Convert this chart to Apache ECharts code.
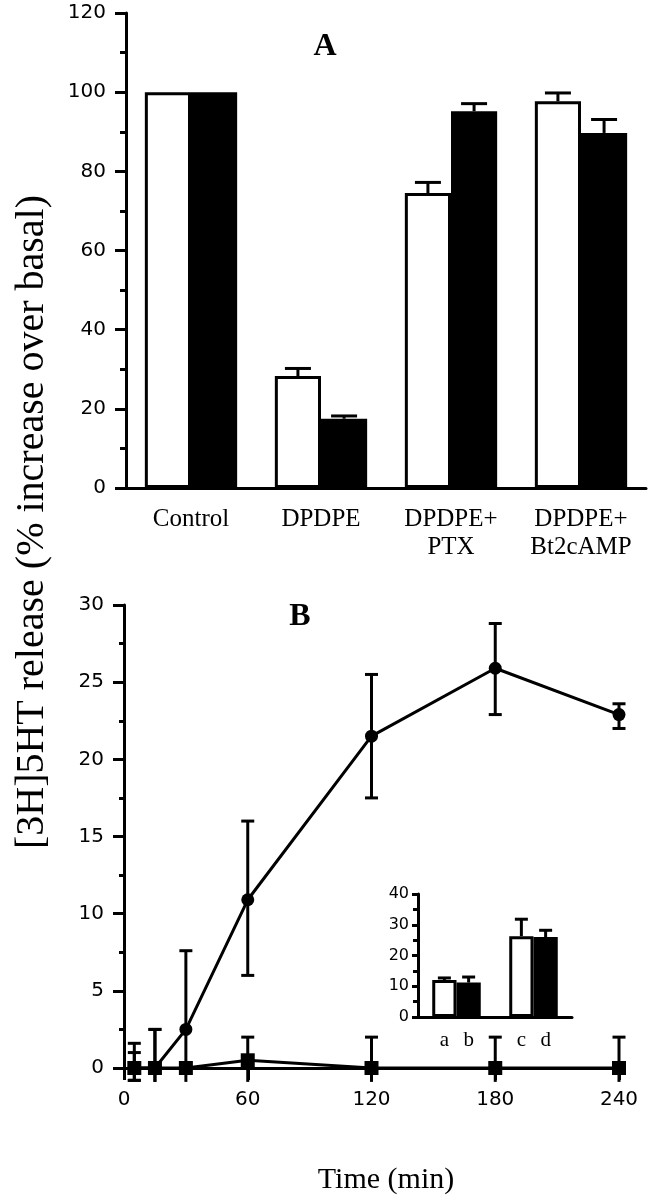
<!DOCTYPE html>
<html><head><meta charset="utf-8">
<script src="https://cdn.jsdelivr.net/npm/echarts@6/dist/echarts.min.js"></script>
<style>html,body{margin:0;padding:0;background:#fff}#c{width:653px;height:1199px}</style>
</head><body><div id="c"></div><script>
// ---------- Panel A ----------
const categoriesA = ['Control', 'DPDPE', 'DPDPE+\nPTX', 'DPDPE+\nBt2cAMP'];
const whiteA = [100, 28.3, 74.5, 97.7];
const whiteAHigh = [100, 30.2, 77.2, 99.8];
const blackA = [100, 17.5, 95.2, 89.7];
const blackAHigh = [100, 18.2, 97.1, 93.1];
// ---------- Panel B ----------
const timeB = [5, 15, 30, 60, 120, 180, 240];
const circleB = [0, 0, 2.5, 10.9, 21.5, 25.9, 22.9];
const circleHigh = [1.0, 2.5, 7.6, 16.0, 25.5, 28.8, 23.6];
const circleLow = [-0.8, -0.9, -0.9, 6.0, 17.5, 22.9, 22.0];
const squareB = [0, 0, 0, 0.5, 0, 0, 0];
const squareHigh = [1.6, 2.5, 0, 2.0, 2.0, 2.0, 2.0];
const squareLow = [-0.8, -0.9, 0, -0.9, -0.9, -0.9, -0.9];
// ---------- Inset ----------
const insetCats = ['ab', 'cd'];
const insetWhite = [12.0, 26.3];
const insetWhiteHigh = [12.7, 31.8];
const insetBlack = [11.2, 26.0];
const insetBlackHigh = [13.0, 28.2];
const insetWhiteLabels = ['a', 'c'];
const insetBlackLabels = ['b', 'd'];

const SERIF = '"Liberation Serif", "Times New Roman", serif';
const SANS = '"DejaVu Sans", sans-serif';
const AX = {lineStyle: {color: '#000', width: 3}};

function barErr(side, gap, capW, lw) {
  return function (params, api) {
    const cat = api.value(0), v = api.value(1), h = api.value(2);
    if (h <= v) return null;
    const band = api.size([1, 0])[0];
    const bw = band * (1 - gap) / 2;
    const c = api.coord([cat, v]);
    const x = c[0] + side * bw / 2;
    const top = api.coord([cat, h])[1];
    return {type: 'group', children: [
      {type: 'line', shape: {x1: x, y1: c[1], x2: x, y2: top}, style: {stroke: '#000', lineWidth: lw}},
      {type: 'line', shape: {x1: x - capW / 2, y1: top, x2: x + capW / 2, y2: top}, style: {stroke: '#000', lineWidth: lw}}
    ]};
  };
}
function lineErr(capW) {
  return function (params, api) {
    const t = api.value(0), lo = api.value(1), hi = api.value(2);
    if (hi <= lo) return null;
    const pHi = api.coord([t, hi]);
    const pLo = api.coord([t, lo]);
    const ch = [
      {type: 'line', shape: {x1: pHi[0], y1: pLo[1], x2: pHi[0], y2: pHi[1]}, style: {stroke: '#000', lineWidth: 3}},
      {type: 'line', shape: {x1: pHi[0] - capW / 2, y1: pHi[1], x2: pHi[0] + capW / 2, y2: pHi[1]}, style: {stroke: '#000', lineWidth: 3}}
    ];
    if (lo >= -0.8) ch.push({type: 'line', shape: {x1: pHi[0] - capW / 2, y1: pLo[1], x2: pHi[0] + capW / 2, y2: pLo[1]}, style: {stroke: '#000', lineWidth: 3}});
    return {type: 'group', children: ch};
  };
}

const chart = echarts.init(document.getElementById('c'), null, {renderer: 'canvas'});
const gapA = 0.29, gapI = 0.37;
chart.setOption({
  animation: false,
  backgroundColor: '#fff',
  grid: [
    {left: 126, top: 13, width: 520, height: 475},
    {left: 124, top: 605, width: 495, height: 463},
    {left: 418, top: 894, width: 154, height: 123}
  ],
  xAxis: [
    {gridIndex: 0, type: 'category', data: categoriesA, boundaryGap: true,
     axisLine: AX, axisTick: {alignWithLabel: true, length: 12, lineStyle: {width: 3, color: '#000'}},
     axisLabel: {interval: 0, fontFamily: SERIF, fontSize: 25, lineHeight: 28, color: '#000', margin: 17}},
    {gridIndex: 1, type: 'value', min: 0, max: 240, interval: 60,
     axisLine: AX, axisTick: {length: 12, lineStyle: {width: 3, color: '#000'}},
     splitLine: {show: false},
     axisLabel: {fontFamily: SANS, fontSize: 20, color: '#000', margin: 22}},
    {gridIndex: 2, type: 'category', data: insetCats, boundaryGap: true,
     axisLine: {lineStyle: {color: '#000', width: 3}}, axisTick: {alignWithLabel: true, length: 12, lineStyle: {width: 3, color: '#000'}},
     axisLabel: {show: false}}
  ],
  yAxis: [
    {gridIndex: 0, type: 'value', min: 0, max: 120, interval: 20,
     axisLine: {show: true, lineStyle: {color: '#000', width: 3}},
     axisTick: {show: true, length: 11, lineStyle: {width: 3, color: '#000'}},
     minorTick: {show: true, splitNumber: 2, length: 6, lineStyle: {width: 3, color: '#000'}},
     splitLine: {show: false},
     axisLabel: {fontFamily: SANS, fontSize: 20, color: '#000', margin: 20}},
    {gridIndex: 1, type: 'value', min: 0, max: 30, interval: 5,
     axisLine: {show: true, lineStyle: {color: '#000', width: 3}},
     axisTick: {show: true, length: 11, lineStyle: {width: 3, color: '#000'}},
     minorTick: {show: true, splitNumber: 2, length: 5, lineStyle: {width: 3, color: '#000'}},
     splitLine: {show: false},
     axisLabel: {fontFamily: SANS, fontSize: 20, color: '#000', margin: 20}},
    {gridIndex: 2, type: 'value', min: 0, max: 40, interval: 10,
     axisLine: {show: true, lineStyle: {color: '#000', width: 3}},
     axisTick: {show: true, length: 6, lineStyle: {width: 3, color: '#000'}},
     minorTick: {show: true, splitNumber: 2, length: 5, lineStyle: {width: 3, color: '#000'}},
     splitLine: {show: false},
     axisLabel: {fontFamily: SANS, fontSize: 16, color: '#000', margin: 9}}
  ],
  series: [
    {type: 'bar', xAxisIndex: 0, yAxisIndex: 0, data: whiteA, barGap: '0%', barCategoryGap: (gapA * 100) + '%',
     itemStyle: {color: '#fff', borderColor: '#000', borderWidth: 3}},
    {type: 'bar', xAxisIndex: 0, yAxisIndex: 0, data: blackA,
     itemStyle: {color: '#000', borderColor: '#000', borderWidth: 3}},
    {type: 'custom', xAxisIndex: 0, yAxisIndex: 0, z: 5, renderItem: barErr(-1, gapA, 26, 3),
     encode: {x: 0, y: [1, 2]}, data: whiteA.map((v, i) => [i, v, whiteAHigh[i]])},
    {type: 'custom', xAxisIndex: 0, yAxisIndex: 0, z: 5, renderItem: barErr(1, gapA, 26, 3),
     encode: {x: 0, y: [1, 2]}, data: blackA.map((v, i) => [i, v, blackAHigh[i]])},

    {type: 'custom', xAxisIndex: 1, yAxisIndex: 1, z: 3, renderItem: lineErr(13),
     encode: {x: 0, y: [1, 2]}, data: timeB.map((t, i) => [t, circleLow[i], circleHigh[i]])},
    {type: 'custom', xAxisIndex: 1, yAxisIndex: 1, z: 3, renderItem: lineErr(13),
     encode: {x: 0, y: [1, 2]}, data: timeB.map((t, i) => [t, squareLow[i], squareHigh[i]])},
    {type: 'line', xAxisIndex: 1, yAxisIndex: 1, z: 4, data: timeB.map((t, i) => [t, squareB[i]]),
     symbol: 'rect', symbolSize: 14, lineStyle: {color: '#000', width: 3}, itemStyle: {color: '#000'}},
    {type: 'line', xAxisIndex: 1, yAxisIndex: 1, z: 4, data: timeB.map((t, i) => [t, circleB[i]]),
     symbol: 'circle', symbolSize: 13, lineStyle: {color: '#000', width: 3}, itemStyle: {color: '#000'}},

    {type: 'bar', xAxisIndex: 2, yAxisIndex: 2, data: insetWhite, barGap: '0%', barCategoryGap: (gapI * 100) + '%',
     itemStyle: {color: '#fff', borderColor: '#000', borderWidth: 3},
     label: {show: true, position: 'bottom', distance: 13, fontFamily: SERIF, fontSize: 21, color: '#000',
             formatter: p => insetWhiteLabels[p.dataIndex]}},
    {type: 'bar', xAxisIndex: 2, yAxisIndex: 2, data: insetBlack,
     itemStyle: {color: '#000', borderColor: '#000', borderWidth: 3},
     label: {show: true, position: 'bottom', distance: 13, fontFamily: SERIF, fontSize: 21, color: '#000',
             formatter: p => insetBlackLabels[p.dataIndex]}},
    {type: 'custom', xAxisIndex: 2, yAxisIndex: 2, z: 5, renderItem: barErr(-1, gapI, 13, 3),
     encode: {x: 0, y: [1, 2]}, data: insetWhite.map((v, i) => [i, v, insetWhiteHigh[i]])},
    {type: 'custom', xAxisIndex: 2, yAxisIndex: 2, z: 5, renderItem: barErr(1, gapI, 13, 3),
     encode: {x: 0, y: [1, 2]}, data: insetBlack.map((v, i) => [i, v, insetBlackHigh[i]])}
  ],
  graphic: [
    {type: 'text', x: 325, y: 47, style: {text: 'A', fontFamily: SERIF, fontWeight: 'bold', fontSize: 32, fill: '#000',
      textAlign: 'center', textVerticalAlign: 'middle', align: 'center', verticalAlign: 'middle'}},
    {type: 'text', x: 300, y: 617, style: {text: 'B', fontFamily: SERIF, fontWeight: 'bold', fontSize: 32, fill: '#000',
      textAlign: 'center', textVerticalAlign: 'middle', align: 'center', verticalAlign: 'middle'}},
    {type: 'text', x: 32, y: 522, rotation: Math.PI / 2, style: {text: '[3H]5HT release (% increase over basal)', fontFamily: SERIF, fontSize: 40, fill: '#000',
      textAlign: 'center', textVerticalAlign: 'middle', align: 'center', verticalAlign: 'middle'}},
    {type: 'text', x: 386, y: 1180, style: {text: 'Time (min)', fontFamily: SERIF, fontSize: 30, fill: '#000',
      textAlign: 'center', textVerticalAlign: 'middle', align: 'center', verticalAlign: 'middle'}}
  ]
});
</script></body></html>
